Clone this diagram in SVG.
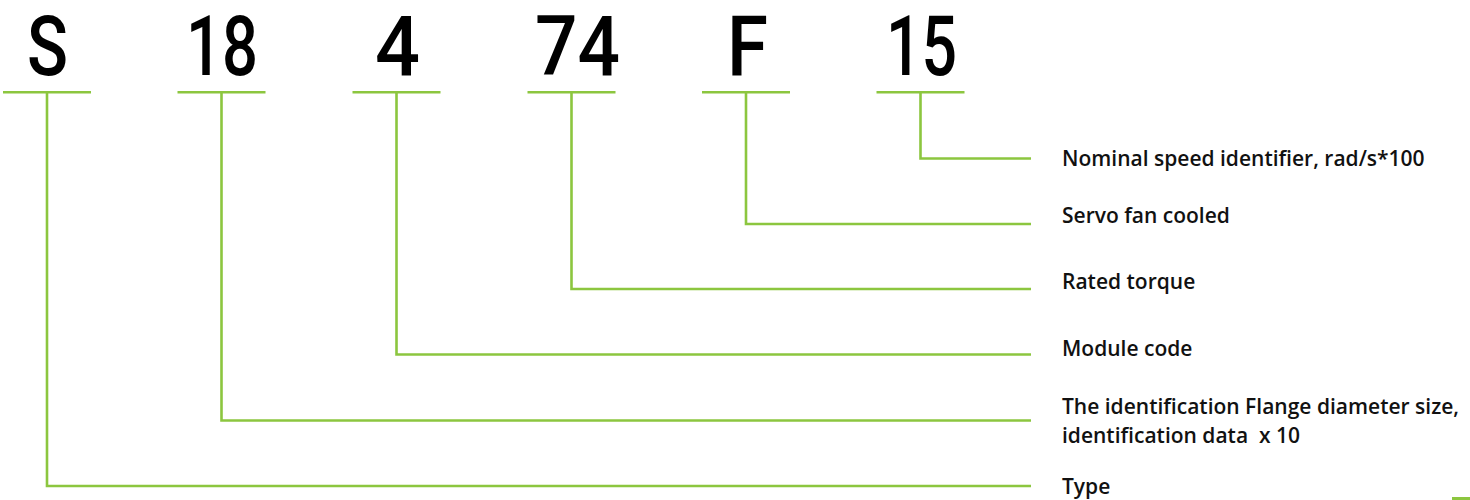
<svg xmlns="http://www.w3.org/2000/svg" width="1470" height="500" viewBox="0 0 1470 500">
<style>
.code{font-family:Roboto,"Liberation Sans",Arial,sans-serif;font-weight:500;font-size:83px;fill:#000;text-anchor:middle}
.lbl{font-family:"Open Sans","Liberation Sans",Arial,sans-serif;font-weight:600;font-size:21px;fill:#111}
.ln{fill:none;stroke:#8cc63f;stroke-width:2.6}
</style>
<rect width="1470" height="500" fill="#fff"/>
<g id="connectors">
<path class="ln" d="M3 92.3H91M47 92.3V486H1031"/>
<path class="ln" d="M177.5 92.3H265.5M221.5 92.3V420.5H1031"/>
<path class="ln" d="M352.5 92.3H440.5M396.5 92.3V354.5H1031"/>
<path class="ln" d="M527.5 92.3H615.5M571.5 92.3V289H1031"/>
<path class="ln" d="M702 92.3H790M746 92.3V224H1031"/>
<path class="ln" d="M876.5 92.3H964.5M920.5 92.3V158.5H1031"/>
</g>
<g id="node-S"><text class="code" x="47.5" y="75" textLength="41" lengthAdjust="spacingAndGlyphs">S</text></g>
<g id="node-18"><text class="code" x="222" y="75" textLength="72" lengthAdjust="spacingAndGlyphs">18</text></g>
<g id="node-4"><text class="code" x="397.5" y="75" textLength="45" lengthAdjust="spacingAndGlyphs">4</text></g>
<g id="node-74"><text class="code" x="577.5" y="75" textLength="85" lengthAdjust="spacingAndGlyphs">74</text></g>
<g id="node-F"><text class="code" x="747.5" y="75" textLength="41" lengthAdjust="spacingAndGlyphs">F</text></g>
<g id="node-15"><text class="code" x="921.5" y="75" textLength="71" lengthAdjust="spacingAndGlyphs">15</text></g>
<g id="label-speed"><text class="lbl" x="1062" y="166">Nominal speed identifier, rad/s*100</text></g>
<g id="label-servo"><text class="lbl" x="1062" y="223">Servo fan cooled</text></g>
<g id="label-torque"><text class="lbl" x="1062" y="289">Rated torque</text></g>
<g id="label-module"><text class="lbl" x="1062" y="356">Module code</text></g>
<g id="label-flange"><text class="lbl" x="1062" y="414">The identification Flange diameter size,</text><text class="lbl" x="1062" y="443" xml:space="preserve">identification data  x 10</text></g>
<g id="label-type"><text class="lbl" x="1062" y="494">Type</text></g>
<rect x="1452" y="497" width="18" height="3" fill="#8cc63f"/>
</svg>
